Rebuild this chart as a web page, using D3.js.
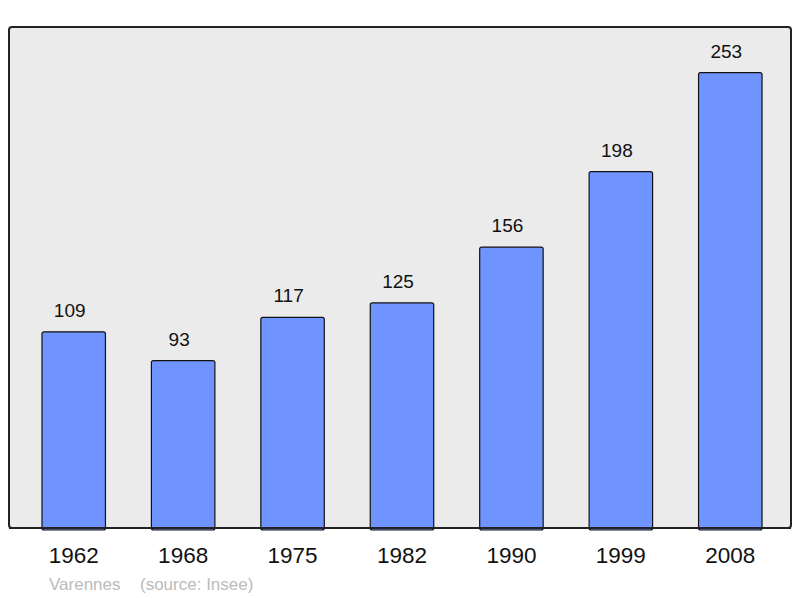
<!DOCTYPE html>
<html>
<head>
<meta charset="utf-8">
<script src="https://cdn.jsdelivr.net/npm/d3@7"></script>
<style>
  body { margin: 0; background: #fff; }
  text { font-family: "Liberation Sans", Arial, sans-serif; }
</style>
</head>
<body>
<div id="chart"></div>
<script>
// Data
var years = ["1962", "1968", "1975", "1982", "1990", "1999", "2008"];
var population = [109, 93, 117, 125, 156, 198, 253];
var footerName = "Varennes";
var footerSource = "(source: Insee)";

var svgWidth = 800;
var svgHeight = 598;

// plot frame
var frame = { left: 9, top: 27, right: 791, bottom: 528 };

var svg = d3.select("#chart")
    .append("svg")
    .attr("width", svgWidth)
    .attr("height", svgHeight);

svg.append("rect")
    .attr("x", frame.left)
    .attr("y", frame.top)
    .attr("width", frame.right - frame.left)
    .attr("height", frame.bottom - frame.top)
    .attr("rx", 3)
    .attr("fill", "#ebebeb")
    .attr("stroke", "#222")
    .attr("stroke-width", 2);

// scales
var xScale = d3.scaleBand()
    .domain(years)
    .range([19, 785])
    .paddingInner(0.42)
    .paddingOuter(0.21);

var yScale = d3.scaleLinear()
    .domain([0, d3.max(population) * 1.1])
    .range([frame.bottom, frame.top]);

var data = years.map(function(y, i) { return { year: y, value: population[i] }; });

// bars
svg.selectAll("rect.bar")
    .data(data)
    .enter()
    .append("rect")
    .classed("bar", true)
    .attr("x", d => xScale(d.year))
    .attr("y", d => yScale(d.value))
    .attr("width", xScale.bandwidth())
    .attr("height", d => frame.bottom - yScale(d.value) + 2)
    .attr("rx", 2)
    .attr("fill", "#7094ff")
    .attr("stroke", "#111")
    .attr("stroke-width", 1.2);

// redraw bottom frame line over bars
svg.append("line")
    .attr("x1", frame.left)
    .attr("x2", frame.right)
    .attr("y1", frame.bottom)
    .attr("y2", frame.bottom)
    .attr("stroke", "#222")
    .attr("stroke-width", 2);

// value labels (sit a little left of the bar centre, as in the original)
svg.selectAll("text.value")
    .data(data)
    .enter()
    .append("text")
    .classed("value", true)
    .attr("x", d => xScale(d.year) + xScale.bandwidth() / 2 - 4)
    .attr("y", d => yScale(d.value) - 15)
    .attr("text-anchor", "middle")
    .attr("font-size", "19px")
    .attr("fill", "#111")
    .text(d => d.value);

// x axis labels
var xAxis = d3.axisBottom(xScale).tickSize(0).tickPadding(0);
var axisG = svg.append("g")
    .attr("transform", `translate(0, ${frame.bottom})`)
    .call(xAxis);
axisG.select(".domain").remove();
axisG.selectAll("text")
    .attr("dy", null)
    .attr("y", 35)
    .attr("font-size", "22.5px")
    .attr("font-family", "Liberation Sans, Arial, sans-serif")
    .attr("fill", "#111");

// footer
svg.append("text")
    .attr("x", 49)
    .attr("y", 590)
    .attr("font-size", "17px")
    .attr("fill", "#bbbbbb")
    .text(footerName);

svg.append("text")
    .attr("x", 140)
    .attr("y", 590)
    .attr("font-size", "17px")
    .attr("fill", "#bbbbbb")
    .text(footerSource);
</script>
</body>
</html>
